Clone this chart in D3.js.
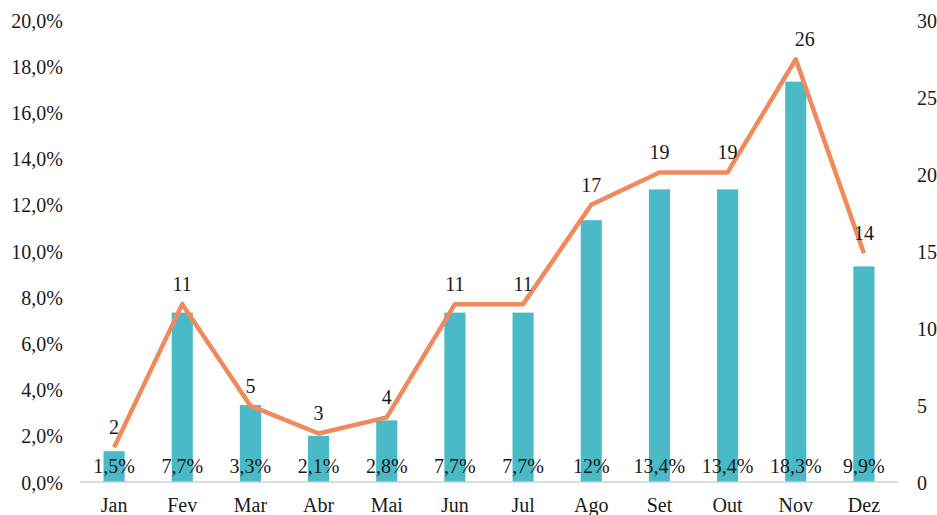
<!DOCTYPE html>
<html>
<head>
<meta charset="utf-8">
<script src="https://cdn.jsdelivr.net/npm/d3@7"></script>
<style>
  body { margin: 0; background: #fff; }
</style>
</head>
<body>
<script>
var months = ["Jan", "Fev", "Mar", "Abr", "Mai", "Jun", "Jul", "Ago", "Set", "Out", "Nov", "Dez"];
var counts = [2, 11, 5, 3, 4, 11, 11, 17, 19, 19, 26, 14];
var percents = [1.5, 7.7, 3.3, 2.1, 2.8, 7.7, 7.7, 12, 13.4, 13.4, 18.3, 9.9];
var percentLabels = ["1,5%", "7,7%", "3,3%", "2,1%", "2,8%", "7,7%", "7,7%", "12%", "13,4%", "13,4%", "18,3%", "9,9%"];
var leftTicks = [0, 2, 4, 6, 8, 10, 12, 14, 16, 18, 20];
var rightTicks = [0, 5, 10, 15, 20, 25, 30];

var width = 937, height = 515;
var margin = { top: 20, right: 39, bottom: 33, left: 80 };

var svg = d3.select("body").append("svg")
    .attr("width", width)
    .attr("height", height);

var x = d3.scaleBand()
    .domain(months)
    .range([margin.left, width - margin.right])
    .paddingInner(0.69)
    .paddingOuter(0.345);

var yLeft = d3.scaleLinear()
    .domain([0, 20])
    .range([height - margin.bottom, margin.top]);

var yRight = d3.scaleLinear()
    .domain([0, 30])
    .range([height - margin.bottom, margin.top]);

function styleText(sel) {
  sel.attr("font-family", "Liberation Serif")
     .attr("font-size", 20)
     .attr("fill", "#1a1a1a");
}

// left axis
var leftAxis = svg.append("g")
    .attr("transform", "translate(" + (margin.left - 14) + ",0)")
    .call(d3.axisLeft(yLeft).tickValues(leftTicks).tickSize(0)
        .tickFormat(function(d) { return d.toFixed(1).replace(".", ",") + "%"; }));
leftAxis.attr("font-family", "Liberation Serif");
leftAxis.select(".domain").remove();
leftAxis.selectAll("text").attr("dy", "0.35em").call(styleText);

// right axis
var rightAxis = svg.append("g")
    .attr("transform", "translate(" + (width - margin.right + 16) + ",0)")
    .call(d3.axisRight(yRight).tickValues(rightTicks).tickSize(0));
rightAxis.attr("font-family", "Liberation Serif");
rightAxis.select(".domain").remove();
rightAxis.selectAll("text").attr("dy", "0.35em").call(styleText);

// bottom axis
var bottomAxis = svg.append("g")
    .attr("transform", "translate(0," + (height - margin.bottom) + ")")
    .call(d3.axisBottom(x).tickSize(0).tickPadding(16));
bottomAxis.attr("font-family", "Liberation Serif");
bottomAxis.select(".domain").remove();
bottomAxis.selectAll("text").call(styleText);

// bars (counts, right axis)
svg.selectAll("rect.bar")
    .data(counts)
    .enter()
    .append("rect")
    .attr("class", "bar")
    .attr("x", function(d, i) { return x(months[i]); })
    .attr("y", function(d) { return yRight(d); })
    .attr("width", x.bandwidth())
    .attr("height", function(d) { return yRight(0) - yRight(d); })
    .attr("fill", "#4bbac7");

// baseline
svg.append("line")
    .attr("x1", margin.left)
    .attr("x2", width - margin.right)
    .attr("y1", yLeft(0))
    .attr("y2", yLeft(0))
    .attr("stroke", "#d0d0d0")
    .attr("stroke-width", 1.5);

// line (percent, left axis)
var line = d3.line()
    .x(function(d, i) { return x(months[i]) + x.bandwidth() / 2; })
    .y(function(d) { return yLeft(d); });

svg.append("path")
    .datum(percents)
    .attr("d", line)
    .attr("fill", "none")
    .attr("stroke", "#f08a5d")
    .attr("stroke-width", 4.5)
    .attr("stroke-linejoin", "round");

// count labels above line
svg.selectAll("text.cnt")
    .data(counts)
    .enter()
    .append("text")
    .attr("class", "cnt")
    .attr("x", function(d, i) { return x(months[i]) + x.bandwidth() / 2 + (i == 10 ? 9 : 0); })
    .attr("y", function(d, i) { return yLeft(percents[i]) - 13; })
    .attr("text-anchor", "middle")
    .call(styleText)
    .text(function(d) { return d; });

// percent labels at bottom of bars
svg.selectAll("text.pct")
    .data(percentLabels)
    .enter()
    .append("text")
    .attr("class", "pct")
    .attr("x", function(d, i) { return x(months[i]) + x.bandwidth() / 2; })
    .attr("y", yLeft(0) - 9)
    .attr("text-anchor", "middle")
    .call(styleText)
    .text(function(d) { return d; });
</script>
</body>
</html>
